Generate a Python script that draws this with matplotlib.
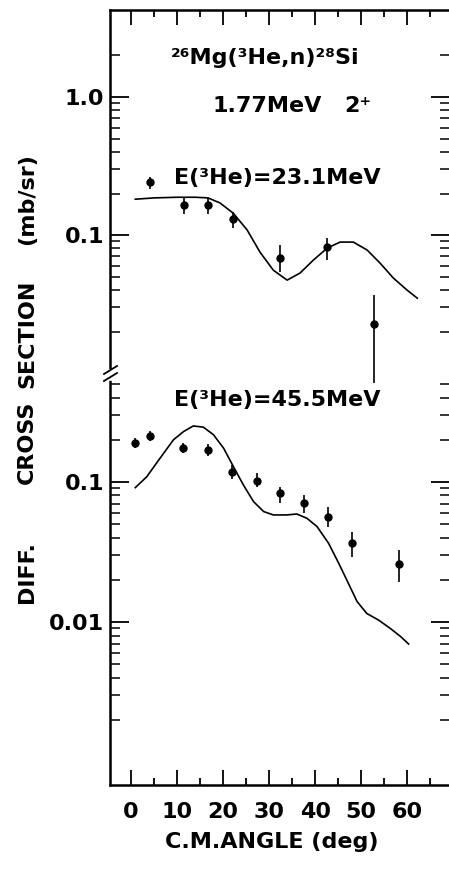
import matplotlib
matplotlib.use("Agg")
import matplotlib.pyplot as plt
from matplotlib.ticker import FixedLocator, NullFormatter, FixedFormatter
from matplotlib.lines import Line2D

plt.rcParams['font.family'] = ['DejaVu Sans']
plt.rcParams['font.weight'] = 'bold'

# 23.1 MeV data (upper panel)
ang_23 = [4.1, 11.5, 16.8, 22.2, 32.4, 42.6, 52.8]
val_23 = [0.242, 0.165, 0.165, 0.131, 0.068, 0.0818, 0.0226]
lo_23 = [0.215, 0.142, 0.143, 0.112, 0.054, 0.066, 0.0085]
hi_23 = [0.263, 0.185, 0.185, 0.147, 0.0847, 0.095, 0.0367]

# DWBA curve, 23.1 MeV
curve_ang_23 = [0.9, 5, 10, 14, 16.7, 19.3, 22.2, 25.2, 28, 30.9, 33.9, 36.7,
                39.6, 42.6, 45.4, 48.3, 51.3, 54.1, 57, 60, 62.2]
curve_val_23 = [0.182, 0.186, 0.188, 0.188, 0.186, 0.171, 0.144, 0.109, 0.0753,
                0.0557, 0.0472, 0.0531, 0.0659, 0.0805, 0.089, 0.089, 0.0779,
                0.0627, 0.0488, 0.0399, 0.0349]

# 45.5 MeV data (lower panel)
ang_45 = [0.9, 4.1, 11.3, 16.7, 21.9, 27.4, 32.4, 37.6, 42.8, 48.0, 58.3]
val_45 = [0.190, 0.213, 0.175, 0.169, 0.118, 0.101, 0.0834, 0.0708, 0.0565, 0.0368, 0.026]
lo_45 = [0.175, 0.196, 0.161, 0.153, 0.105, 0.092, 0.0708, 0.060, 0.0477, 0.0291, 0.0193]
hi_45 = [0.206, 0.231, 0.190, 0.187, 0.132, 0.116, 0.092, 0.0807, 0.0663, 0.044, 0.0327]

curve_ang_45 = [0.9, 3.4, 6.3, 9.2, 11.4, 13.5, 15.7, 17.9, 20.1, 22.2, 24.4, 26.6,
                28.8, 30.9, 33.8, 36.0, 38.2, 40.4, 42.9, 45.1, 47.2, 49.1, 51.2,
                53.8, 56.3, 58.5, 60.3]
curve_val_45 = [0.091, 0.109, 0.148, 0.2, 0.229, 0.251, 0.246, 0.217, 0.174, 0.129,
                0.095, 0.0723, 0.0614, 0.0581, 0.0581, 0.059, 0.055, 0.048, 0.0365,
                0.0263, 0.0189, 0.014, 0.0115, 0.0103, 0.009, 0.0079, 0.00696]

x_ticks = [0, 10, 20, 30, 40, 50, 60]
x_minor = [5, 15, 25, 35, 45, 55, 65]

W, H = 449, 872
fig = plt.figure(figsize=(W / 100, H / 100), dpi=100)


def fx(x):
    return x / W


def fy(y):
    return 1 - y / H


L, R = 110, 450
ax2 = fig.add_axes([fx(L), fy(785), fx(R) - fx(L), fy(375) - fy(785)])
ax1 = fig.add_axes([fx(L), fy(375), fx(R) - fx(L), fy(10) - fy(375)])

for ax in (ax1, ax2):
    ax.set_yscale('log')
    ax.set_xlim(-4.6, 69.3)
    ax.patch.set_visible(False)
    ax.spines['right'].set_visible(False)
    for s in ax.spines.values():
        s.set_linewidth(1.8)
    ax.xaxis.set_major_locator(FixedLocator(x_ticks))
    ax.xaxis.set_minor_locator(FixedLocator(x_minor))
    ax.tick_params(axis='x', which='major', direction='in', length=10.8, width=1.3)
    ax.tick_params(axis='x', which='minor', direction='in', length=5, width=1.3)
    ax.tick_params(axis='y', which='major', direction='in', length=14, width=1.3,
                   left=True, right=True, labelsize=16, pad=4)
    ax.tick_params(axis='y', which='minor', direction='in', length=7, width=1.1,
                   left=True, right=True)
    ax.yaxis.set_minor_formatter(NullFormatter())

ax1.set_ylim(0.0097, 4.27)
ax2.set_ylim(6.85e-4, 0.58)

ax1.spines['bottom'].set_visible(False)
ax2.spines['top'].set_visible(False)
ax1.tick_params(axis='x', which='both', bottom=False, top=True,
                labelbottom=False, labeltop=False)
ax2.tick_params(axis='x', which='both', bottom=True, top=False,
                labelsize=16, pad=12)

ax1.yaxis.set_major_locator(FixedLocator([0.1, 1.0]))
ax1.yaxis.set_major_formatter(FixedFormatter(['0.1', '1.0']))
ax1.yaxis.set_minor_locator(FixedLocator(
    [2] + [k / 10 for k in range(2, 10)] + [k / 100 for k in range(2, 10)]))

ax2.yaxis.set_major_locator(FixedLocator([0.01, 0.1]))
ax2.yaxis.set_major_formatter(FixedFormatter(['0.01', '0.1']))
ax2.yaxis.set_minor_locator(FixedLocator(
    [k / 10 for k in range(2, 6)] + [k / 100 for k in range(2, 10)]
    + [k / 1000 for k in range(2, 10)]))

# curves
ax1.plot(curve_ang_23, curve_val_23, color='black', lw=1.2)
ax2.plot(curve_ang_45, curve_val_45, color='black', lw=1.2)

# data points
for ax, a, v, lo, hi in ((ax1, ang_23, val_23, lo_23, hi_23),
                         (ax2, ang_45, val_45, lo_45, hi_45)):
    err = [[vi - l for vi, l in zip(v, lo)], [h - vi for vi, h in zip(v, hi)]]
    cont = ax.errorbar(a, v, yerr=err, fmt='o', color='black', ms=5,
                       elinewidth=1.2, capsize=0)
    for art in cont.get_children():
        art.set_clip_on(False)

# axis break marks on the left spine
fig.add_artist(Line2D([fx(L), fx(L)], [fy(372), fy(378)], color='white', lw=4))
for dy in (-3, 4):
    fig.add_artist(Line2D([fx(104), fx(117)], [fy(377 + dy), fy(369 + dy)],
                          color='black', lw=1.3))

# annotations
fs = 16
fig.text(fx(265), fy(58), "²⁶Mg(³He,n)²⁸Si", ha='center', va='center',
         fontsize=fs, fontweight='bold')
fig.text(fx(267), fy(106), "1.77MeV", ha='center', va='center',
         fontsize=fs, fontweight='bold')
fig.text(fx(344), fy(106), "2⁺", ha='left', va='center',
         fontsize=fs, fontweight='bold')
fig.text(fx(277), fy(178), "E(³He)=23.1MeV", ha='center', va='center',
         fontsize=fs, fontweight='bold')
fig.text(fx(277), fy(400), "E(³He)=45.5MeV", ha='center', va='center',
         fontsize=fs, fontweight='bold')

fig.text(fx(272), fy(842), "C.M.ANGLE (deg)", ha='center', va='center',
         fontsize=fs, fontweight='bold')

for word, yc in (("(mb/sr)", 199), ("SECTION", 334), ("CROSS", 442), ("DIFF.", 572)):
    fig.text(fx(27), fy(yc), word, ha='center', va='center', rotation=90,
             fontsize=fs, fontweight='bold')

fig.savefig("out.png", dpi=100)
